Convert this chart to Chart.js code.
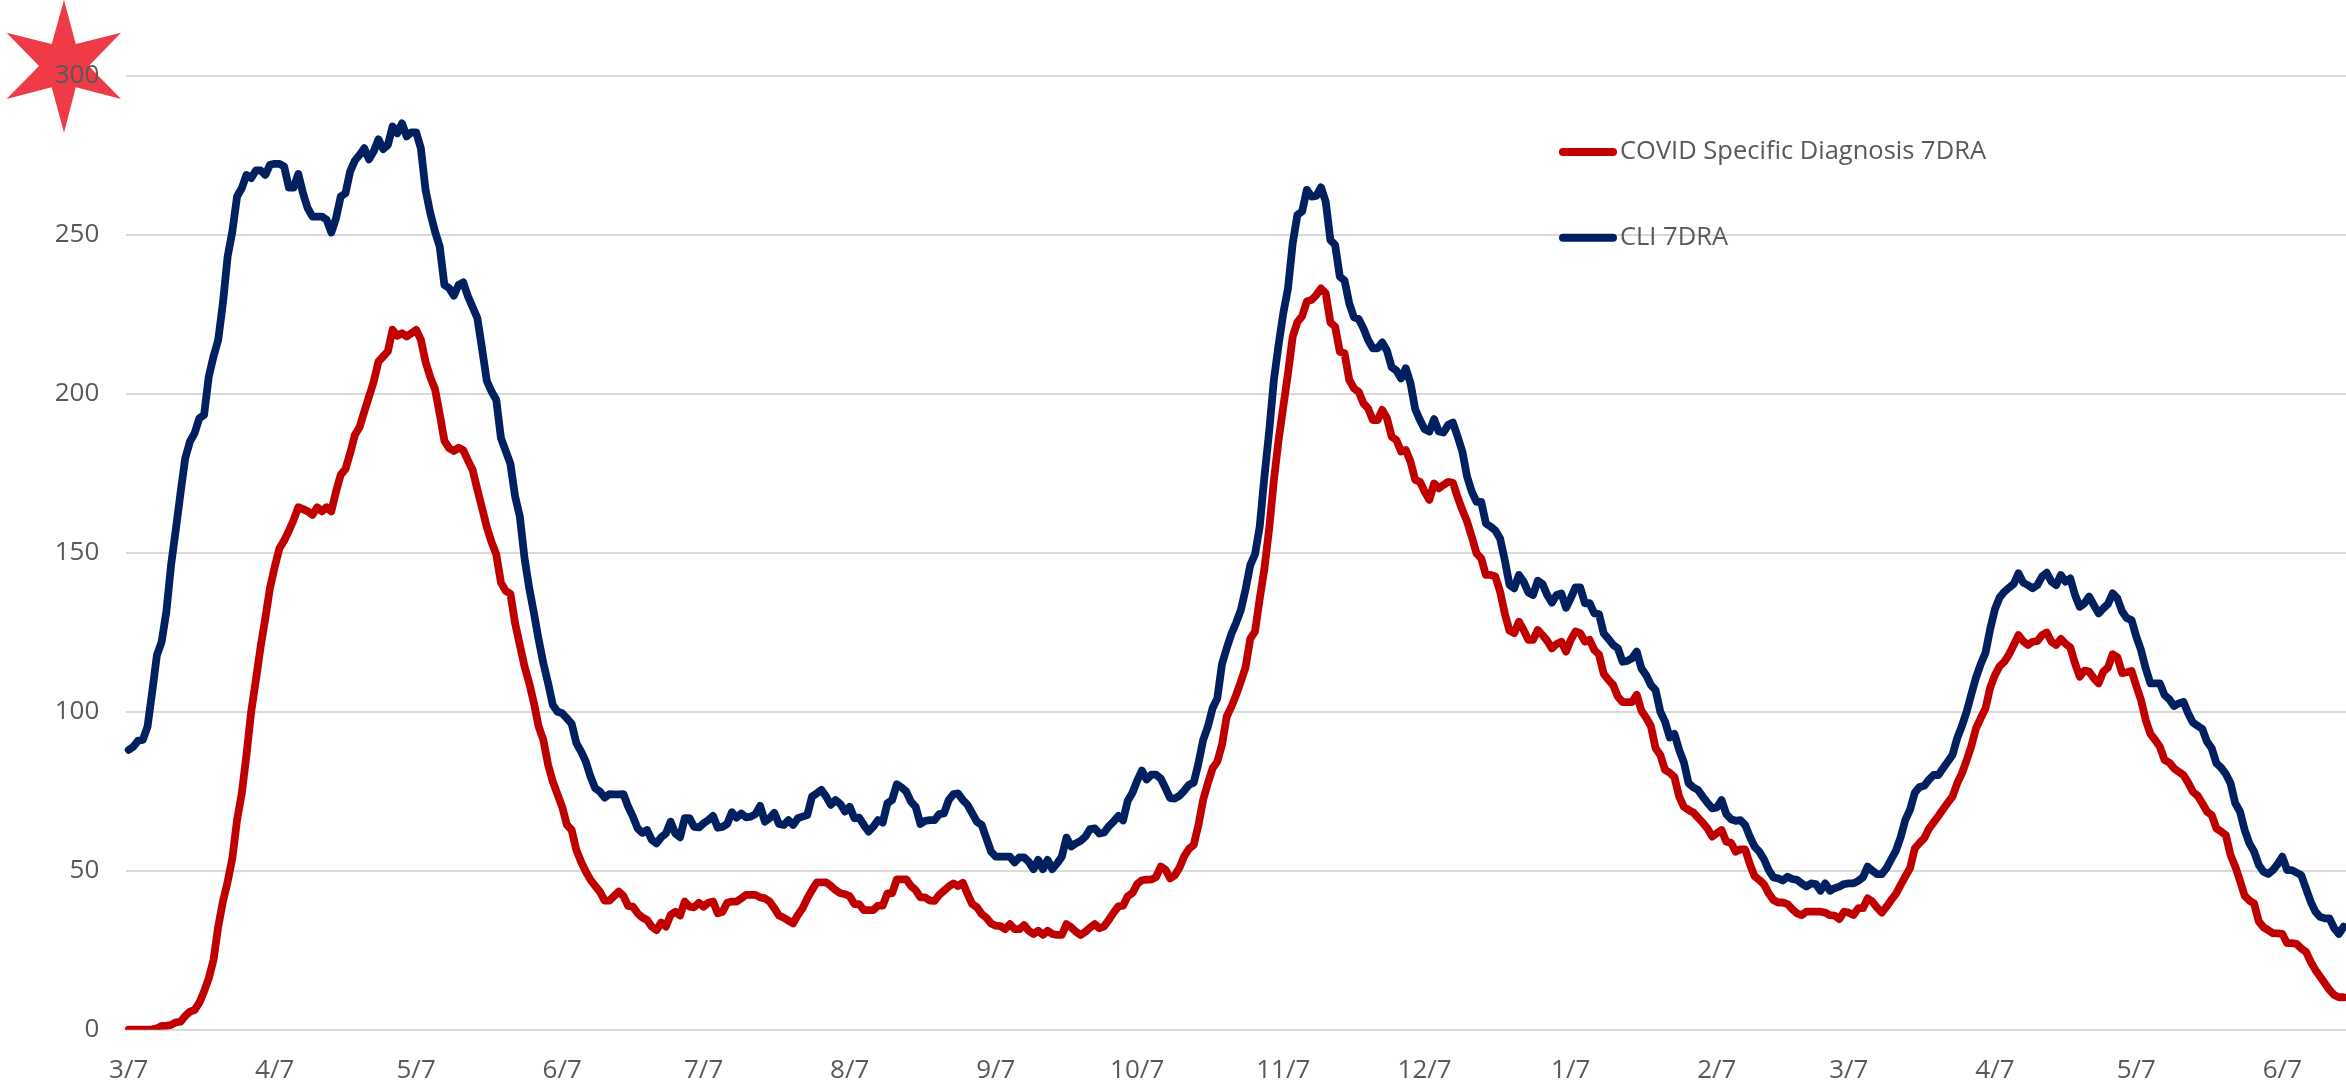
<!DOCTYPE html>
<html>
<head>
<meta charset="utf-8">
<style>html,body{margin:0;padding:0;background:#fff}canvas{display:block}</style>
<script src="https://cdn.jsdelivr.net/npm/chart.js@4"></script>
</head>
<body>
<canvas id="c" width="2346" height="1084"></canvas>
<script>
const seriesNames = ['COVID Specific Diagnosis 7DRA', 'CLI 7DRA'];
const yTicks = [0, 50, 100, 150, 200, 250, 300];
const tickLabels = ['3/7','4/7','5/7','6/7','7/7','8/7','9/7','10/7','11/7','12/7','1/7','2/7'];

const covidDiagnosis = [
0,0,0,0,0,0.1,0.4,1.2,1.2,1.5,
2.3,2.5,4.3,5.7,6.2,8.5,12,16.2,21.9,32.4,
40.3,46.5,53.9,65.9,74.3,86.4,100,110,120.4,129.4,
139,145.6,151.4,153.8,156.9,160.3,164.3,163.7,163,161.9,
164.3,163,164.3,163,169.2,174.5,176.3,181.3,187,189.5,
194.4,199.1,203.8,210.1,211.7,213.3,220.1,218.2,219,218,
219,220.1,217,210,205.2,201.5,193.6,185.2,182.9,182,
183,182.2,179,176,169.8,164,158,153.3,149.5,140.6,
138,137.1,127.8,121,114.2,109,102.7,95.3,91.1,83.3,
78,74,70,64.4,62.8,56.5,52.8,49.7,47.1,45.2,
43.4,40.6,40.6,42,43.4,42,38.9,38.7,36.6,35.3,
34.5,32.4,31.3,33.7,32.4,36.1,37.1,35.9,40.3,38.7,
38.5,39.9,38.7,39.9,40.3,36.6,37.1,39.9,40.3,40.3,
41.3,42.4,42.4,42.4,41.6,41.3,40.3,38.2,35.9,35.2,
34.3,33.4,36.1,38.2,41.3,43.9,46.3,46.3,46.3,45.2,
43.9,42.9,42.6,42,39.5,39.5,37.6,37.6,37.6,39,
39,42.9,42.9,47.3,47.3,47.3,45.2,43.9,41.6,41.6,
40.6,40.5,42.4,43.7,45,46,45.2,46.2,42.7,39.5,
38.5,36.4,35.2,33.4,32.7,32.6,31.6,33.2,31.6,31.6,
32.9,31.1,30.1,31.1,29.8,31.1,30.1,29.8,29.8,33.2,
32.2,30.8,29.8,30.8,32.1,33.2,31.9,32.5,34.6,36.8,
38.8,39,42,43,45.8,47,47.2,47.2,48,51.3,
50.3,47.6,48.6,51,54.6,56.9,58.1,64.4,72.3,77.5,
82.2,84.3,89.6,98.5,101.6,105.3,109.5,114,123,125.2,
135.5,145,157.5,172.7,185.4,195.9,206.4,217.9,222.5,224.4,
229,229.5,231,233.1,231.6,222.4,221.1,213.2,212.7,204.3,
201.7,200.6,197,195.4,191.7,191.7,194.9,192.3,186.5,185.4,
181.8,182.3,178.6,172.9,172.3,169.2,166.6,171.8,170.2,171.3,
172.3,172,167.4,163.4,159.8,155,149.8,148.2,143,143,
142.5,137.8,130.9,125.5,124.7,128.3,125.7,122.6,122.6,125.7,
124.1,122.3,119.9,121.3,122,118.9,122.6,125.2,124.7,122,
122.6,119.4,118,111.9,110,108.4,104.7,103,103,103,
105.3,100.3,98.1,95.5,88.5,86.4,81.7,80.8,79.4,73.3,
70.1,69.1,68.3,66.7,65.1,63.3,60.7,61.8,62.8,59.1,
58.8,56,56.7,56.7,52.1,48.3,47.1,45.7,42.9,40.8,
40,40,39.5,37.9,36.6,36,37.1,37.1,37.1,37.1,
36.8,36,35.9,34.8,37.1,36.8,36.1,38.2,38.2,41.3,
40.3,38.4,36.8,38.7,40.8,42.7,45.5,48.2,50.8,57,
58.7,60.2,63.2,65.2,67.2,69.3,71.4,73.3,77.5,80.6,
84.7,89.2,94.8,98,101,107.6,111.5,114.3,115.7,118,
121,124.1,122.2,121,122,122.2,124.1,124.9,122,121,
122.9,121.3,120.2,115.2,111,112.9,112.6,110.5,108.9,112.6,
113.9,118.1,117.1,112.1,112.4,112.8,108.1,103.7,97.4,93,
91.1,89,84.8,84,82.2,81.1,80.1,77.7,74.8,73.6,
71.2,68.6,67.5,63.3,62.3,61.2,54.9,51.3,46.9,42.1,
40.6,39.7,34,32.2,31.3,30.3,30.3,30.1,27.2,27.2,
27,25.6,24.5,21.4,18.8,16.7,14.6,12.5,10.9,10.2,
10.2
];

const cli = [
88,89,90.9,91.1,95.3,106.3,117.8,122,131.5,146.1,
157.2,168.7,179.7,184.9,187.6,192.3,193.3,205.4,211.7,216.9,
228.5,243.1,251,262,264.6,268.8,267.8,270.2,270.2,268.8,
272,272.3,272.3,271.4,264.8,264.8,269.1,263,258.3,255.7,
255.7,255.7,254.7,250.7,255.2,262,263,269.9,273.3,275.1,
277.2,273.7,276.2,280,276.9,278.2,284,281.9,285,280.9,
282.2,282.2,277.2,264.1,256.8,251,246.3,234.2,233.2,230.8,
234.2,235,230.6,227.2,223.7,214,204,200.7,198.1,186,
182,178,167.7,161.4,148.3,138.8,131,122.6,115.2,109,
102.1,100,99.5,97.9,96.2,90.1,87.5,84.3,79.6,75.9,
74.9,73,74.1,74,74,74.1,70.1,67,63.3,61.9,
62.8,59.7,58.6,60.5,61.7,65.4,61.7,60.5,66.5,66.5,
63.8,63.6,64.9,65.9,67.2,63.5,63.8,64.7,68.4,66.7,
68,66.8,67,67.8,70.4,65.4,66.5,68.2,64.7,64.4,
65.9,64.4,66.5,67,67.5,73.3,74.3,75.4,73.3,70.7,
72.2,71,68.6,70.1,66.5,66.7,64.4,62.3,63.8,65.9,
65.1,71.2,72.2,77.2,76.2,74.9,71.7,70.1,64.7,65.7,
65.9,65.9,67.8,68,72.2,74.1,74.3,72.2,70.7,68,
65.4,64.4,60.2,56,54.4,54.4,54.4,54.4,52.6,54.2,
54.2,52.8,50.5,53.4,50.5,53.4,50.5,52.3,54.4,60.4,
57.6,58.6,59.4,60.7,63.1,63.3,61.7,62,64,65.5,
67.2,65.8,72,74.5,78.3,81.5,78.7,80.2,80.2,79,
76,72.8,72.7,73.6,75.2,77,77.7,83.8,91.1,95.3,
101.1,104.2,115,120,124.5,128,132,138.5,146.1,149.5,
158.2,173.9,188.1,204.3,215.3,225.3,233.1,247.3,256.2,257.3,
264.1,262,262.2,264.9,260.4,248.3,246.8,236.8,235.6,228.4,
224,223.5,220.6,216.9,214.3,214.3,216.1,213.5,208.3,207.3,
204.8,208,203.3,195.1,191.7,188.8,188.1,192,188.1,187.8,
190.2,190.9,186.5,181.8,173.9,169.2,166,166,159.2,158.2,
157,154.5,147.7,139.9,138.8,143,140.9,137.5,136.7,141.2,
140.2,136.7,134.3,136.7,137.2,132.7,135.7,139.1,139.1,134.1,
134.1,130.9,130.7,124.6,122.9,121,119.9,115.7,116,116.8,
118.9,113.6,111.5,108.4,106.8,100,96.9,91.9,93,88,
84.1,77.5,76.2,75.4,73.3,71.4,69.6,69.9,72.2,67.8,
66.2,65.7,65.9,64.4,60.7,57.6,56,53.6,50.2,47.9,
47.6,46.9,48.1,47.4,47.1,46,45,46,45.8,43.7,
46,43.7,44.5,45,45.8,46,46,46.8,47.9,51.3,
50,48.9,48.9,50.8,53.6,56.3,60.5,66,69.2,74.5,
76.3,76.7,78.6,80.1,80.1,82.2,84.3,86.4,91.7,95.5,
100,105.5,110.8,115,118.5,126,132.2,135.9,137.7,139,
140.2,143.5,140.6,139.8,138.8,139.8,142.5,143.7,140.9,139.8,
143,140.9,141.9,136.7,133,134.1,136.2,133.5,130.9,132.5,
133.9,137.2,135.6,131.5,129.4,128.8,123.6,119.4,113.6,108.9,
108.9,108.9,105.2,103.9,101.8,102.6,103.1,99.5,96.6,95.6,
94.6,90.6,88.5,83.8,82.4,80.4,77.5,71.2,68.6,62.8,
58.6,56,51.8,49.7,49,50.2,52.1,54.4,50.2,50.2,
49.4,48.6,44.4,40.3,37.1,35.5,35,35,31.9,30.1,
32.4
];

// One category per day, starting 3/7
const categories = [];
{
  const d = new Date(2020, 2, 7);
  for (let i = 0; i < cli.length; i++) {
    categories.push((d.getMonth() + 1) + '/' + d.getDate());
    d.setDate(d.getDate() + 1);
  }
}

const TEXT = '#595959';
const FONT = '"Open Sans", sans-serif';

const decorations = {
  id: 'decorations',
  beforeDraw(chart) {
    const c = chart.ctx;
    const pts = [[64,0],[75.8,44],[121,32.7],[88.8,66],[121,99],[75.8,87.3],[64,132.7],[51.7,87.3],[6.5,99],[39,66],[6.5,32.7],[51.7,44]];
    c.save();
    c.fillStyle = '#EF3A47';
    c.beginPath();
    pts.forEach((p, i) => i ? c.lineTo(p[0], p[1]) : c.moveTo(p[0], p[1]));
    c.closePath();
    c.fill();
    c.restore();
  },
  afterDraw(chart) {
    const c = chart.ctx;
    const rows = [152, 237.7];
    c.save();
    chart.data.datasets.forEach((ds, i) => {
      c.strokeStyle = ds.borderColor;
      c.lineWidth = 8;
      c.lineCap = 'round';
      c.beginPath();
      c.moveTo(1563, rows[i]);
      c.lineTo(1613, rows[i]);
      c.stroke();
      c.fillStyle = TEXT;
      c.font = '25.5px ' + FONT;
      c.textBaseline = 'middle';
      c.textAlign = 'left';
      c.fillText(ds.label, 1620, rows[i]);
    });
    c.restore();
  }
};

new Chart(document.getElementById('c'), {
  type: 'line',
  data: {
    labels: categories,
    datasets: [
      { label: seriesNames[0], data: covidDiagnosis, borderColor: '#C00000', order: 1 },
      { label: seriesNames[1], data: cli, borderColor: '#002060', order: 0 }
    ]
  },
  options: {
    responsive: false,
    animation: false,
    layout: { padding: { top: 75.7, left: 0, right: 0, bottom: 0 } },
    elements: {
      point: { radius: 0 },
      line: { borderWidth: 7.8, tension: 0, borderCapStyle: 'round', borderJoinStyle: 'round', fill: false }
    },
    plugins: { legend: { display: false }, title: { display: false }, tooltip: { enabled: false } },
    scales: {
      x: {
        offset: true,
        afterFit(s) { s.height = 54.3; s.paddingLeft = 0; s.paddingRight = 0; },
        grid: { display: false },
        border: { display: false },
        ticks: {
          autoSkip: false, maxRotation: 0, minRotation: 0, padding: 17,
          color: TEXT, font: { family: FONT, size: 26 },
          callback(v) { const l = this.getLabelForValue(v); return tickLabels.includes(l) ? l : ''; }
        }
      },
      y: {
        min: 0, max: 300,
        afterFit(s) { s.width = 126.3; s.paddingTop = 0; s.paddingBottom = 0; },
        afterBuildTicks(s) { s.ticks = yTicks.map(v => ({ value: v })); },
        grid: { color: '#D9D9D9', lineWidth: 2, drawTicks: false },
        border: { display: false },
        ticks: { padding: 27, color: TEXT, font: { family: FONT, size: 26 } }
      }
    }
  },
  plugins: [decorations]
});
</script>
</body>
</html>
